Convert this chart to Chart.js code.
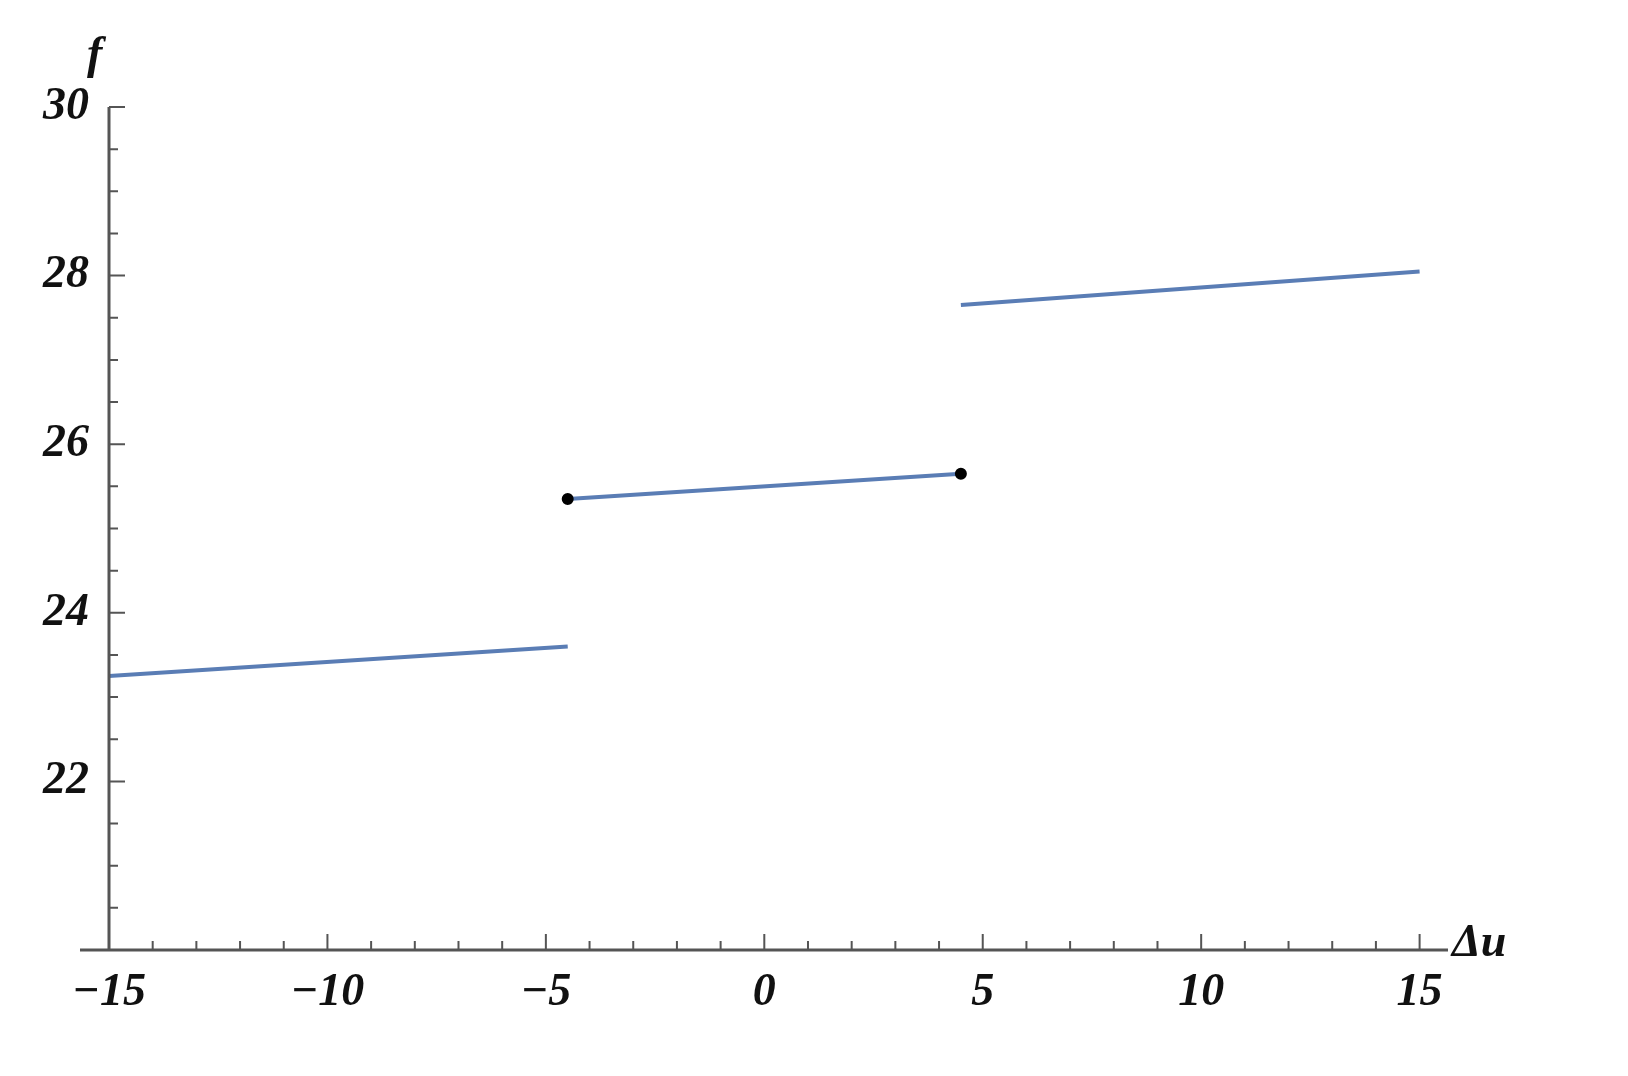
<!DOCTYPE html>
<html><head><meta charset="utf-8">
<script src="https://cdn.jsdelivr.net/npm/chart.js@4"></script>
<style>html,body{margin:0;background:#fff}#w{width:1628px;height:1076px}</style>
</head><body><div id="w"><canvas id="c"></canvas></div>
<script>
const seg1X=[-15,-4.5], seg1Y=[23.25,23.6];
const seg2X=[-4.5,4.5], seg2Y=[25.35,25.65];
const seg3X=[4.5,15], seg3Y=[27.65,28.05];
const xTickLabels=[-15,-10,-5,0,5,10,15];
const yTickLabels=[22,24,26,28,30];
const pts=(xs,ys)=>xs.map((x,i)=>({x,y:ys[i]}));
const lineCol='#5a7db5';
const axesPlugin={id:'ax',afterDraw(ch){
 const c=ch.ctx,x=ch.scales.x,y=ch.scales.y;
 const x0=x.getPixelForValue(-15),y0=y.getPixelForValue(20);
 c.save();c.strokeStyle='#555';c.lineWidth=3;
 c.beginPath();c.moveTo(x0-29,y0);c.lineTo(x.right,y0);c.moveTo(x0,y0);c.lineTo(x0,y.getPixelForValue(30));c.stroke();
 c.lineWidth=2;c.beginPath();
 for(let v=-15;v<=15;v++){const p=x.getPixelForValue(v),l=v%5===0?16:9;c.moveTo(p,y0);c.lineTo(p,y0-l);}
 for(let v=20.5;v<=30.001;v+=0.5){const p=y.getPixelForValue(v),l=Math.abs(v%2)<1e-6?16:9;c.moveTo(x0,p);c.lineTo(x0+l,p);}
 c.stroke();
 c.fillStyle='#111';c.font='italic bold 46px "Liberation Serif"';
 c.textAlign='center';c.textBaseline='top';
 xTickLabels.forEach(v=>c.fillText(v<0?'\u2212'+(-v):String(v),x.getPixelForValue(v),y0+20));
 c.textAlign='right';c.textBaseline='middle';
 yTickLabels.forEach(v=>c.fillText(String(v),x0-20,y.getPixelForValue(v)));
 c.textAlign='left';c.textBaseline='bottom';c.fillText('f',x0-22,y.getPixelForValue(30)-28);
 c.textBaseline='middle';c.fillText('\u0394u',x.right+4,y0-6);
 c.restore();}};
const ds=(xs,ys,pt)=>({data:pts(xs,ys),showLine:true,borderColor:lineCol,borderWidth:4,pointRadius:pt?4:0,pointBackgroundColor:'#000',pointBorderColor:'#000'});
new Chart(document.getElementById('c'),{type:'scatter',
 data:{datasets:[ds(seg1X,seg1Y,false),ds(seg2X,seg2Y,true),ds(seg3X,seg3Y,false)]},
 options:{responsive:true,maintainAspectRatio:false,animation:false,
  layout:{padding:{top:107,right:180,left:0,bottom:0}},
  plugins:{legend:{display:false},tooltip:{enabled:false}},
  scales:{
   x:{type:'linear',min:-15,max:15.65,grid:{display:false},border:{display:false},ticks:{display:false},afterFit:s=>{s.height=126;}},
   y:{type:'linear',min:20,max:30,grid:{display:false},border:{display:false},ticks:{display:false},afterFit:s=>{s.width=109;}}
  }},
 plugins:[axesPlugin]});
</script></body></html>
